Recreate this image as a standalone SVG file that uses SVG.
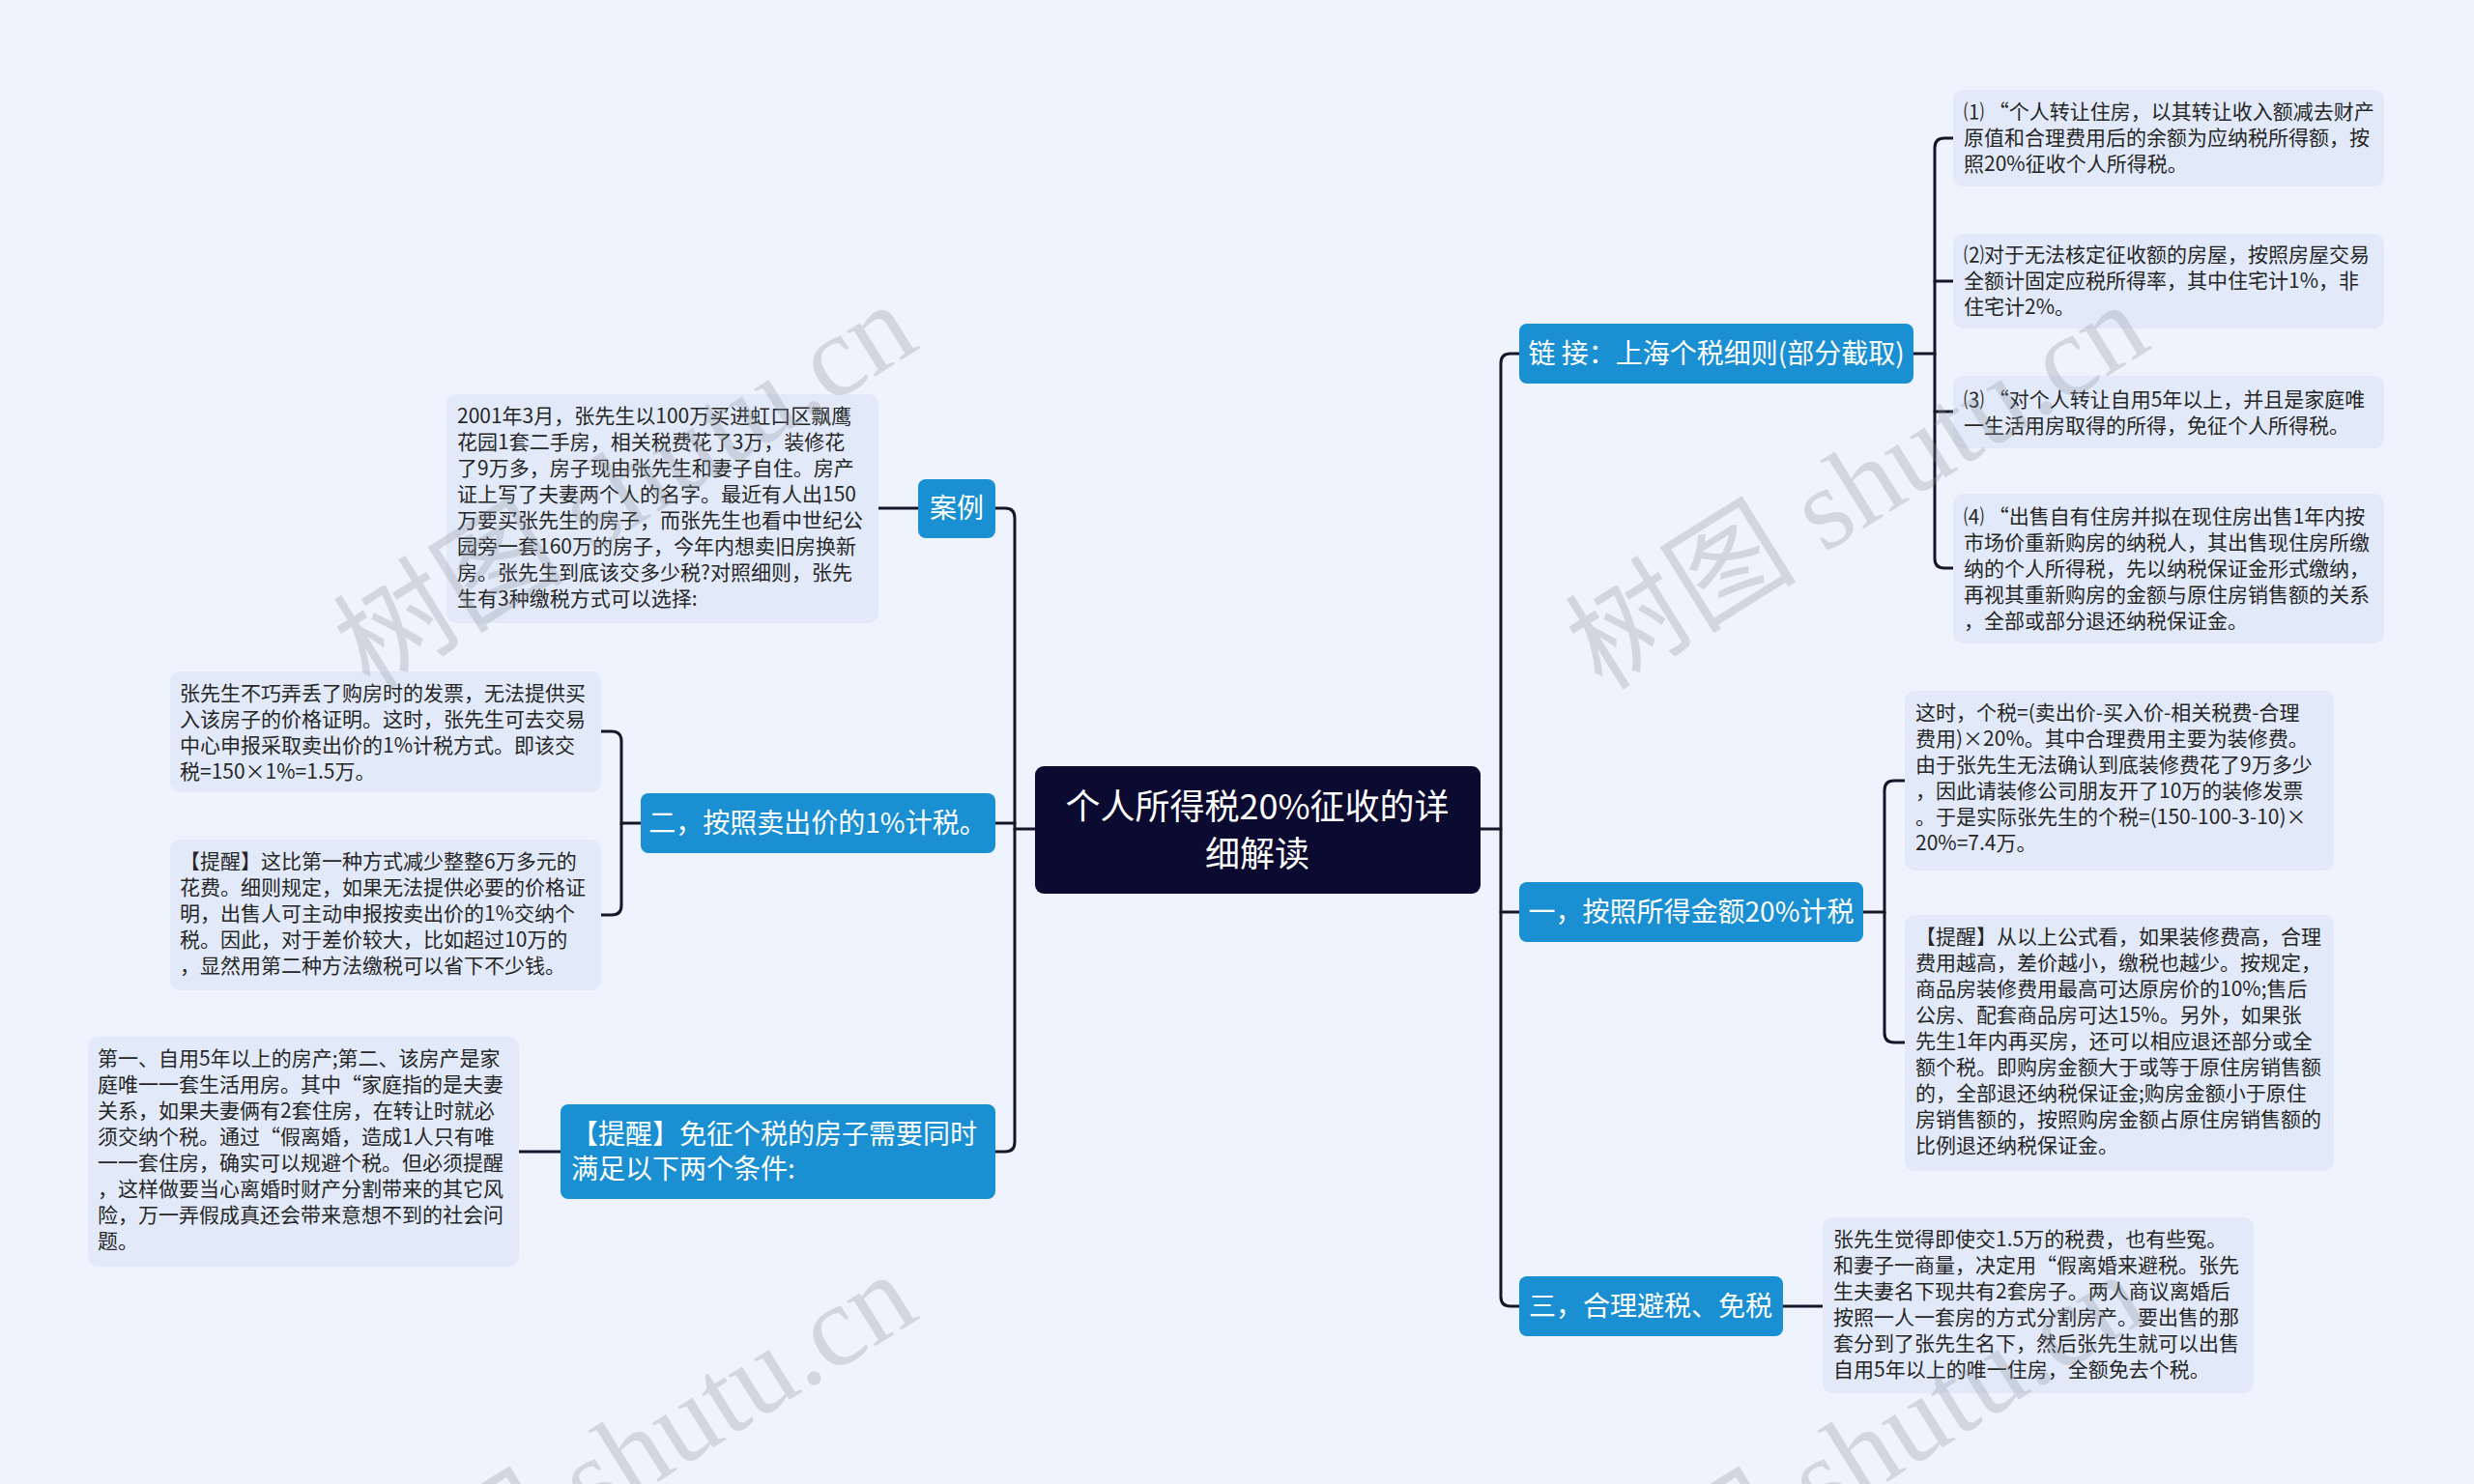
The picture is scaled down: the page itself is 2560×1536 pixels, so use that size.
<svg xmlns="http://www.w3.org/2000/svg" width="2560" height="1536" viewBox="0 0 2560 1536">
<style>
.bg{fill:#eef3fd}
.leaf{fill:#e2eafa}
.topic{fill:#1a8fd2}
.root{fill:#0b0a30}
.lt{font-family:"Noto Sans CJK SC","Noto Sans",sans-serif;font-size:21px;fill:#262626}
.tt{font-family:"Noto Sans CJK SC","Noto Sans",sans-serif;font-size:28px;fill:#ffffff}
.rt{font-family:"Noto Sans CJK SC","Noto Sans",sans-serif;font-size:36px;fill:#ffffff}
.conn path{fill:none;stroke:#16162a;stroke-width:3;stroke-linecap:round}
.wm{font-family:"Liberation Serif","Noto Sans CJK SC",serif;font-size:120px;fill:#8a9099;opacity:0.28}
</style>
<rect class="bg" x="0" y="0" width="2560" height="1536"/>

<g id="connectors" class="conn">
<path d="M1531,858 H1553 V376 Q1553,366 1563,366 H1572"/>
<path d="M1553,858 V1342 Q1553,1352 1563,1352 H1572"/>
<path d="M1553,944 H1572"/>
<path d="M1071,858 H1050 V536 Q1050,526 1040,526 H1030"/>
<path d="M1050,858 V1182 Q1050,1192 1040,1192 H1030"/>
<path d="M1050,852 H1030"/>
<path d="M1980,366 H2002 V153 Q2002,143 2012,143 H2021"/>
<path d="M2002,366 V578 Q2002,588 2012,588 H2021"/>
<path d="M2002,291 H2021"/>
<path d="M2002,426 H2021"/>
<path d="M1928,944 H1950 V818 Q1950,808 1960,808 H1971"/>
<path d="M1950,944 V1069 Q1950,1079 1960,1079 H1971"/>
<path d="M663,852 H643 V767 Q643,757 633,757 H622"/>
<path d="M643,852 V937 Q643,947 633,947 H622"/>
<path d="M1845,1352 H1886"/>
<path d="M909,526 H950"/>
<path d="M537,1192 H580"/>
</g>

<g id="root">
<rect class="root" x="1071" y="793" width="461" height="132" rx="9"/>
<text class="rt" x="1301" y="848" text-anchor="middle">个人所得税20%征收的详</text>
<text class="rt" x="1301" y="897" text-anchor="middle">细解读</text>
</g>

<g id="link">
<rect class="topic" x="1572" y="335" width="408" height="62" rx="8"/>
<text class="tt" x="1776" y="376" text-anchor="middle">链 接：上海个税细则(部分截取)</text>
</g>
<g id="leaf1">
<rect class="leaf" x="2021" y="93" width="446" height="100" rx="10"/>
<text class="lt"><tspan x="2032" y="123">⑴ “个人转让住房，以其转让收入额减去财产</tspan><tspan x="2032" y="150">原值和合理费用后的余额为应纳税所得额，按</tspan><tspan x="2032" y="177">照20%征收个人所得税。</tspan></text>
</g>
<g id="leaf2">
<rect class="leaf" x="2021" y="242" width="446" height="98" rx="10"/>
<text class="lt"><tspan x="2032" y="271">⑵对于无法核定征收额的房屋，按照房屋交易</tspan><tspan x="2032" y="298">全额计固定应税所得率，其中住宅计1%，非</tspan><tspan x="2032" y="325">住宅计2%。</tspan></text>
</g>
<g id="leaf3">
<rect class="leaf" x="2021" y="389" width="446" height="75" rx="10"/>
<text class="lt"><tspan x="2032" y="421">⑶ “对个人转让自用5年以上，并且是家庭唯</tspan><tspan x="2032" y="448">一生活用房取得的所得，免征个人所得税。</tspan></text>
</g>
<g id="leaf4">
<rect class="leaf" x="2021" y="511" width="446" height="155" rx="10"/>
<text class="lt"><tspan x="2032" y="542">⑷ “出售自有住房并拟在现住房出售1年内按</tspan><tspan x="2032" y="569">市场价重新购房的纳税人，其出售现住房所缴</tspan><tspan x="2032" y="596">纳的个人所得税，先以纳税保证金形式缴纳，</tspan><tspan x="2032" y="623">再视其重新购房的金额与原住房销售额的关系</tspan><tspan x="2032" y="650">，全部或部分退还纳税保证金。</tspan></text>
</g>

<g id="topic1">
<rect class="topic" x="1572" y="913" width="356" height="62" rx="8"/>
<text class="tt" x="1750" y="954" text-anchor="middle">一，按照所得金额20%计税</text>
</g>
<g id="leafA">
<rect class="leaf" x="1971" y="715" width="444" height="186" rx="10"/>
<text class="lt"><tspan x="1982" y="745">这时，个税=(卖出价-买入价-相关税费-合理</tspan><tspan x="1982" y="772">费用)×20%。其中合理费用主要为装修费。</tspan><tspan x="1982" y="799">由于张先生无法确认到底装修费花了9万多少</tspan><tspan x="1982" y="826">，因此请装修公司朋友开了10万的装修发票</tspan><tspan x="1982" y="853">。于是实际张先生的个税=(150-100-3-10)×</tspan><tspan x="1982" y="880">20%=7.4万。</tspan></text>
</g>
<g id="leafB">
<rect class="leaf" x="1971" y="947" width="444" height="265" rx="10"/>
<text class="lt"><tspan x="1982" y="977">【提醒】从以上公式看，如果装修费高，合理</tspan><tspan x="1982" y="1004">费用越高，差价越小，缴税也越少。按规定，</tspan><tspan x="1982" y="1031">商品房装修费用最高可达原房价的10%;售后</tspan><tspan x="1982" y="1058">公房、配套商品房可达15%。另外，如果张</tspan><tspan x="1982" y="1085">先生1年内再买房，还可以相应退还部分或全</tspan><tspan x="1982" y="1112">额个税。即购房金额大于或等于原住房销售额</tspan><tspan x="1982" y="1139">的，全部退还纳税保证金;购房金额小于原住</tspan><tspan x="1982" y="1166">房销售额的，按照购房金额占原住房销售额的</tspan><tspan x="1982" y="1193">比例退还纳税保证金。</tspan></text>
</g>

<g id="topic3">
<rect class="topic" x="1572" y="1321" width="273" height="62" rx="8"/>
<text class="tt" x="1708" y="1362" text-anchor="middle">三，合理避税、免税</text>
</g>
<g id="leafC">
<rect class="leaf" x="1886" y="1260" width="446" height="182" rx="10"/>
<text class="lt"><tspan x="1897" y="1290">张先生觉得即使交1.5万的税费，也有些冤。</tspan><tspan x="1897" y="1317">和妻子一商量，决定用“假离婚来避税。张先</tspan><tspan x="1897" y="1344">生夫妻名下现共有2套房子。两人商议离婚后</tspan><tspan x="1897" y="1371">按照一人一套房的方式分割房产。要出售的那</tspan><tspan x="1897" y="1398">套分到了张先生名下，然后张先生就可以出售</tspan><tspan x="1897" y="1425">自用5年以上的唯一住房，全额免去个税。</tspan></text>
</g>

<g id="case">
<rect class="topic" x="950" y="496" width="80" height="61" rx="8"/>
<text class="tt" x="990" y="536" text-anchor="middle">案例</text>
</g>
<g id="leafCase">
<rect class="leaf" x="462" y="408" width="447" height="237" rx="10"/>
<text class="lt"><tspan x="473" y="438">2001年3月，张先生以100万买进虹口区飘鹰</tspan><tspan x="473" y="465">花园1套二手房，相关税费花了3万，装修花</tspan><tspan x="473" y="492">了9万多，房子现由张先生和妻子自住。房产</tspan><tspan x="473" y="519">证上写了夫妻两个人的名字。最近有人出150</tspan><tspan x="473" y="546">万要买张先生的房子，而张先生也看中世纪公</tspan><tspan x="473" y="573">园旁一套160万的房子，今年内想卖旧房换新</tspan><tspan x="473" y="600">房。张先生到底该交多少税?对照细则，张先</tspan><tspan x="473" y="627">生有3种缴税方式可以选择:</tspan></text>
</g>

<g id="topic2">
<rect class="topic" x="663" y="821" width="367" height="62" rx="8"/>
<text class="tt" x="846" y="862" text-anchor="middle">二，按照卖出价的1%计税。</text>
</g>
<g id="leafD">
<rect class="leaf" x="176" y="695" width="446" height="125" rx="10"/>
<text class="lt"><tspan x="186" y="725">张先生不巧弄丢了购房时的发票，无法提供买</tspan><tspan x="186" y="752">入该房子的价格证明。这时，张先生可去交易</tspan><tspan x="186" y="779">中心申报采取卖出价的1%计税方式。即该交</tspan><tspan x="186" y="806">税=150×1%=1.5万。</tspan></text>
</g>
<g id="leafE">
<rect class="leaf" x="176" y="869" width="446" height="156" rx="10"/>
<text class="lt"><tspan x="186" y="899">【提醒】这比第一种方式减少整整6万多元的</tspan><tspan x="186" y="926">花费。细则规定，如果无法提供必要的价格证</tspan><tspan x="186" y="953">明，出售人可主动申报按卖出价的1%交纳个</tspan><tspan x="186" y="980">税。因此，对于差价较大，比如超过10万的</tspan><tspan x="186" y="1007">，显然用第二种方法缴税可以省下不少钱。</tspan></text>
</g>

<g id="remind">
<rect class="topic" x="580" y="1143" width="450" height="98" rx="8"/>
<text class="tt"><tspan x="591" y="1184">【提醒】免征个税的房子需要同时</tspan><tspan x="591" y="1220">满足以下两个条件:</tspan></text>
</g>
<g id="leafF">
<rect class="leaf" x="91" y="1073" width="446" height="238" rx="10"/>
<text class="lt"><tspan x="101" y="1103">第一、自用5年以上的房产;第二、该房产是家</tspan><tspan x="101" y="1130">庭唯一一套生活用房。其中“家庭指的是夫妻</tspan><tspan x="101" y="1157">关系，如果夫妻俩有2套住房，在转让时就必</tspan><tspan x="101" y="1184">须交纳个税。通过“假离婚，造成1人只有唯</tspan><tspan x="101" y="1211">一一套住房，确实可以规避个税。但必须提醒</tspan><tspan x="101" y="1238">，这样做要当心离婚时财产分割带来的其它风</tspan><tspan x="101" y="1265">险，万一弄假成真还会带来意想不到的社会问</tspan><tspan x="101" y="1292">题。</tspan></text>
</g>

<g id="watermarks">
<text class="wm" transform="translate(383,716) rotate(-32)">树图 shutu.cn</text>
<text class="wm" transform="translate(1658,716) rotate(-32)">树图 shutu.cn</text>
<text class="wm" transform="translate(383,1720) rotate(-32)">树图 shutu.cn</text>
<text class="wm" transform="translate(1655,1720) rotate(-32)">树图 shutu.cn</text>
</g>
</svg>
